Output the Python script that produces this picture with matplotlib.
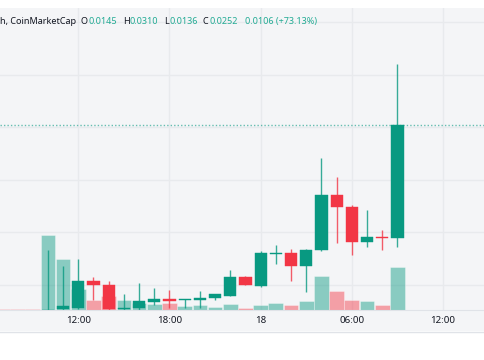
import matplotlib
matplotlib.use("Agg")
import matplotlib.pyplot as plt
from matplotlib.patches import Rectangle

# horas (dia 17 07:00 ... dia 18 09:00), candles de 1h
tempos = ["07:00", "08:00", "09:00", "10:00", "11:00", "12:00", "13:00", "14:00",
          "15:00", "16:00", "17:00", "18:00", "19:00", "20:00", "21:00", "22:00",
          "23:00", "18", "01:00", "02:00", "03:00", "04:00", "05:00", "06:00",
          "07:00", "08:00", "09:00"]

abre = [0.0071, 0.0070, 0.0069, 0.0068, 0.0077, 0.0078, 0.0104, 0.0100, 0.0077,
        0.0078, 0.0084, 0.0087, 0.0086, 0.0086, 0.0088, 0.0090, 0.0108, 0.0099,
        0.0130, 0.0130, 0.0118, 0.0133, 0.0186, 0.0174, 0.0141, 0.0146, 0.0145]
maxi = [0.0073, 0.0072, 0.0071, 0.0133, 0.0118, 0.0125, 0.0108, 0.0104, 0.0091,
        0.0102, 0.0097, 0.0095, 0.0087, 0.0094, 0.0091, 0.0114, 0.01085, 0.0132,
        0.0138, 0.0134, 0.0134, 0.0221, 0.0203, 0.0176, 0.0171, 0.0152, 0.0310]
mini = [0.0070, 0.0069, 0.0068, 0.0067, 0.0075, 0.0077, 0.0086, 0.0076, 0.0075,
        0.0076, 0.0081, 0.0078, 0.0078, 0.0078, 0.0086, 0.0090, 0.0100, 0.0098,
        0.0120, 0.0104, 0.0093, 0.0132, 0.0140, 0.0129, 0.0136, 0.0133, 0.0136]
fecha = [0.0070, 0.0069, 0.0068, 0.0076, 0.0080, 0.0104, 0.0100, 0.0077, 0.0078,
         0.0085, 0.0087, 0.0085, 0.0086, 0.0088, 0.0091, 0.0108, 0.0100, 0.0130,
         0.0130, 0.0118, 0.0133, 0.0186, 0.0174, 0.0141, 0.0146, 0.0145, 0.0252]
volume = [13, 13, 13, 750, 507, 213, 103, 140, 103, 73, 63, 67, 40, 53, 27, 60,
          17, 47, 67, 53, 87, 337, 190, 100, 87, 53, 433]

marcas = {5: "12:00", 11: "18:00", 17: "18", 23: "06:00", 29: "12:00"}
ultimo = fecha[-1]

VERDE = "#089981"
VERMELHO = "#f23645"
FUNDO = "#f4f5f7"
GRADE = "#e8eaed"
TEXTO = "#131722"

plt.rcParams['font.family'] = ['Noto Sans', 'DejaVu Sans']

W, H = 485, 360
fig = plt.figure(figsize=(W / 100, H / 100), dpi=100)
fig.patch.set_facecolor("white")

# faixa do eixo de tempo
fig.patches.append(Rectangle((0, (H - 331) / H), 1, 21 / H, transform=fig.transFigure,
                             facecolor=FUNDO, edgecolor="none", zorder=-1))
fig.add_artist(plt.Line2D([0, 1], [(H - 331.5) / H] * 2, transform=fig.transFigure,
                          color="#e0e3e8", lw=1, zorder=-1))

ax = fig.add_axes([0, (H - 310) / H, 1, 302 / H])
ax.set_facecolor(FUNDO)
ax.set_xlim(-0.151, 31.76)
ax.set_ylim(0.00762, 0.03637)

# grade
for v in [0.010, 0.015, 0.020, 0.025, 0.030, 0.035]:
    ax.axhline(v, color=GRADE, lw=1, zorder=0)
for k in marcas:
    ax.axvline(k, color=GRADE, lw=1, zorder=0)

x = list(range(len(tempos)))
cores = [VERDE if c >= o else VERMELHO for o, c in zip(abre, fecha)]

# volume (escala propria, em fracao do eixo)
VOL_TOPO = 3020
ax.bar(x, [v / VOL_TOPO for v in volume], width=0.97, color=cores, alpha=0.45,
       edgecolor="white", linewidth=0.5, transform=ax.get_xaxis_transform(), zorder=1)

# linha do ultimo preco
ax.axhline(ultimo, color=VERDE, lw=1, ls=(0, (1, 1.5)), alpha=0.6, zorder=1.5)

# pavios e corpos
ax.vlines(x, mini, maxi, colors=cores, lw=1.0, alpha=0.8, zorder=2)
minimo = 0.0001
alturas = [max(abs(c - o), minimo) for o, c in zip(abre, fecha)]
bases = [min(o, c) if abs(c - o) >= minimo else (o + c) / 2 - minimo / 2
         for o, c in zip(abre, fecha)]
ax.bar(x, alturas, bottom=bases, width=0.81, color=cores, edgecolor=cores,
       linewidth=0.3, zorder=3)

for s in ["top", "left", "right"]:
    ax.spines[s].set_visible(False)
ax.spines["bottom"].set_color("#e0e3e8")
ax.set_yticks([])
ax.set_xticks(list(marcas.keys()))
rot = ax.set_xticklabels(list(marcas.values()), fontsize=7, color=TEXTO)
rot[2].set_fontweight("bold")
ax.tick_params(axis="x", length=0, pad=4)

# cabecalho
def px(xp, yp):
    return xp / W, 1 - yp / H

pedacos = [
    (0.5, "h, CoinMarketCap", TEXTO),
    (81, "O", TEXTO), (88.5, "0.0145", "#22ab94"),
    (123, "H", TEXTO), (130, "0.0310", "#22ab94"),
    (164.5, "L", TEXTO), (169.5, "0.0136", "#22ab94"),
    (202.5, "C", TEXTO), (209, "0.0252", "#22ab94"),
    (245, "0.0106 (+73.13%)", "#22ab94"),
]
for xp, t, c in pedacos:
    fig.text(*px(xp, 21.5), t, color=c, fontsize=6.5, ha="left", va="center")

fig.savefig("out.png", dpi=100)
